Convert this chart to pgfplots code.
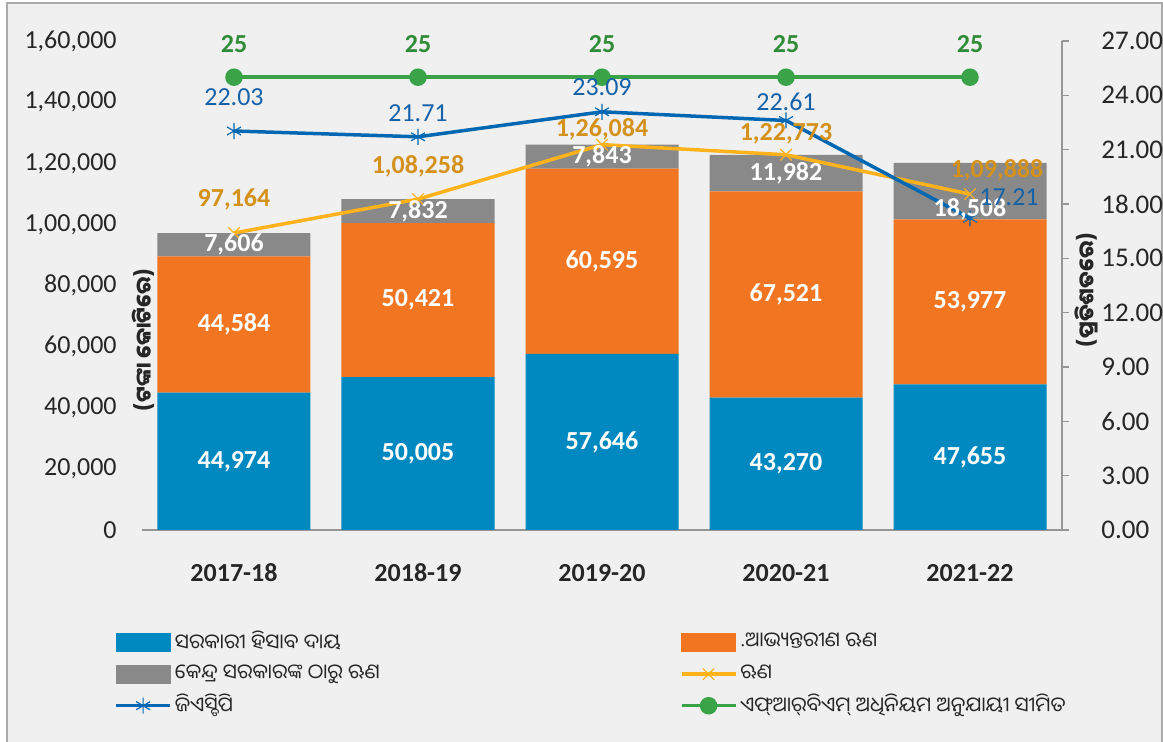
\documentclass[border=0pt]{standalone}
\usepackage{pgfplots}
\pgfplotsset{compat=1.18}
\usepackage{fontspec}
\setmainfont{Carlito}
\newfontfamily\odia[Script=Oriya]{Noto Sans Oriya UI}
\definecolor{cBlue}{RGB}{0,137,192}
\definecolor{cOrange}{RGB}{242,117,34}
\definecolor{cGray}{RGB}{137,137,137}
\definecolor{cYellow}{RGB}{255,178,26}
\definecolor{cGold}{RGB}{212,145,28}
\definecolor{cLine}{RGB}{0,104,178}
\definecolor{cLineTxt}{RGB}{22,98,168}
\definecolor{cGreen}{RGB}{58,163,72}
\definecolor{cGreenTxt}{RGB}{48,140,56}
\definecolor{cBg}{RGB}{240,240,240}
\definecolor{cFrame}{RGB}{170,170,170}
\definecolor{cAxis}{RGB}{150,150,150}
\definecolor{cTxt}{RGB}{38,38,38}
\newcommand\mainsize{\fontsize{13pt}{15pt}\selectfont}
\pgfplotsset{
  common/.style={scale only axis, width=460pt, height=244.5pt,
    xmin=-0.5, xmax=4.5, at={(0pt,0pt)}, anchor=south west},
  myline/.style={legend image code/.code={\draw[mark repeat=2,mark phase=2,##1] plot coordinates {(0pt,0pt) (13.5pt,0pt) (27pt,0pt)};}},
}
\begin{document}
\begin{tikzpicture}[font=\mainsize]
\path[use as bounding box] (-71pt,-106pt) rectangle (510.5pt,265pt);
\fill[white] (-71pt,-106pt) rectangle (510.5pt,265pt);
\filldraw[fill=cBg, draw=cFrame, line width=1pt] (-67.5pt,-115pt) rectangle (509.8pt,263.25pt);

% Axis 1: stacked bars
\begin{axis}[common,
  ybar stacked, bar width=76.5pt,
  ymin=0, ymax=160000,
  scaled y ticks=false,
  axis lines*=left,
  y axis line style={draw=none},
  x axis line style={cAxis, line width=0.8pt},
  major tick length=0pt,
  ytick={0,20000,40000,60000,80000,100000,120000,140000,160000},
  yticklabels={0,{20,000},{40,000},{60,000},{80,000},{1,00,000},{1,20,000},{1,40,000},{1,60,000}},
  yticklabel style={anchor=east, inner sep=0pt, xshift=-12.5pt, text=cTxt, font=\mainsize},
  xtick={0,1,2,3,4},
  xticklabels={2017-18,2018-19,2019-20,2020-21,2021-22},
  xticklabel style={anchor=center, inner sep=0pt, yshift=-21.5pt, font=\mainsize\bfseries, text=cTxt},
  clip=false,
]
\addplot[fill=cBlue, draw=none] coordinates {(0,44974) (1,50005) (2,57646) (3,43270) (4,47655)};
\addplot[fill=cOrange, draw=none] coordinates {(0,44584) (1,50421) (2,60595) (3,67521) (4,53977)};
\addplot[fill=cGray, draw=none] coordinates {(0,7606) (1,7832) (2,7843) (3,11982) (4,18508)};
\end{axis}

% Axis 2: total debt line (left scale)
\begin{axis}[common, hide axis, ymin=0, ymax=160000, clip=false]
\addplot[cYellow, line width=1.75pt, mark=x, mark size=4pt, mark options={line width=0.6pt}]
  coordinates {(0,97164) (1,108258) (2,126084) (3,122773) (4,109888)};
\end{axis}

% Axis 3: right scale lines + legend
\begin{axis}[common, ymin=0, ymax=27,
  axis y line*=right, axis x line=none,
  y axis line style={cAxis, line width=0.8pt},
  ytick={0,3,6,9,12,15,18,21,24,27},
  yticklabel={\pgfmathprintnumber[fixed,fixed zerofill,precision=2,assume math mode=true]{\tick}},
  tick align=outside, major tick length=3.5pt,
  tick style={cAxis, line width=0.8pt},
  yticklabel style={anchor=west, inner sep=0pt, xshift=16pt, text=cTxt, font=\fontsize{13.5pt}{15pt}\selectfont},
  clip=false,
  legend columns=2,
  legend cell align=left,
  legend style={draw=none, fill=none, at={(axis description cs:0,0)}, anchor=north west,
    xshift=-17pt, yshift=-47pt, row sep=2.5pt,
    font=\odia\fontsize{10.25pt}{12pt}\selectfont, text=cTxt,
    nodes={inner sep=1.5pt},
    /tikz/column 2/.style={column sep=148.5pt}},
]
\addlegendimage{legend image code/.code={\fill[cBlue] (0pt,-4.5pt) rectangle (27pt,4.5pt);}}
\addlegendentry{ସରକାରୀ ହିସାବ ଦାୟ}
\addlegendimage{legend image code/.code={\fill[cOrange] (0pt,-4.5pt) rectangle (27pt,4.5pt);}}
\addlegendentry{.ଆଭ୍ୟନ୍ତରୀଣ ଋଣ}
\addlegendimage{legend image code/.code={\fill[cGray] (0pt,-4.5pt) rectangle (27pt,4.5pt);}}
\addlegendentry{କେନ୍ଦ୍ର ସରକାରଙ୍କ ଠାରୁ ଋଣ}
\addlegendimage{myline, cYellow, line width=1.75pt, mark=x, mark size=4pt, mark options={line width=0.6pt}}
\addlegendentry{ଋଣ}
\addplot[myline, cLine, line width=1.75pt, mark=asterisk, mark size=4pt, mark options={line width=0.6pt}]
  coordinates {(0,22.03) (1,21.71) (2,23.09) (3,22.61) (4,17.21)};
\addlegendentry{ଜିଏସ୍ଡିପି}
\addplot[myline, cGreen, line width=1.75pt, mark=*, mark size=3.5pt]
  coordinates {(0,25) (1,25) (2,25) (3,25) (4,25)};
\addlegendentry{ଏଫ୍‌ଆର୍‌ବିଏମ୍ ଅଧିନିୟମ ଅନୁଯାୟୀ ସୀମିତ}
\end{axis}

% Axis 4: data labels (left scale)
\begin{axis}[common, hide axis, ymin=0, ymax=160000, clip=false,
  nodes near coords, point meta=explicit symbolic,
  nodes near coords align={anchor=center},
  every node near coord/.append style={inner sep=0pt},
]
\addplot[draw=none, mark=none, nodes near coords style={text=white, font=\mainsize\bfseries}]
  coordinates {(0,22487)[44,974] (1,25002)[50,005] (2,28823)[57,646] (3,21635)[43,270] (4,23828)[47,655]};
\addplot[draw=none, mark=none, nodes near coords style={text=white, font=\mainsize\bfseries}]
  coordinates {(0,67266)[44,584] (1,75216)[50,421] (2,87944)[60,595] (3,77031)[67,521] (4,74644)[53,977]};
\addplot[draw=none, mark=none, nodes near coords style={text=white, font=\mainsize\bfseries}]
  coordinates {(0,93361)[7,606] (1,104342)[7,832] (2,122163)[7,843] (3,116782)[11,982] (4,105000)[18,508]};
\addplot[draw=none, mark=none, nodes near coords style={text=cGold, font=\mainsize\bfseries}]
  coordinates {(0,108303)[97,164] (1,119101)[1,08,258] (2,131207)[1,26,084] (3,129571)[1,22,773] (4.147,117792)[1,09,888]};
\addplot[draw=none, mark=none, nodes near coords style={text=cLineTxt, font=\mainsize}]
  coordinates {(0,141678)[22.03] (1,136442)[21.71] (2,144950)[23.09] (3,140042)[22.61] (4.212,108958)[17.21]};
\addplot[draw=none, mark=none, nodes near coords style={text=cGreenTxt, font=\mainsize\bfseries}]
  coordinates {(0,159019)[25] (1,159019)[25] (2,159019)[25] (3,159019)[25] (4,159019)[25]};
\end{axis}

\node[rotate=90, font=\odia\bfseries\fontsize{10.5pt}{12pt}\selectfont, text=cTxt] at (0.5pt,95pt) {(ଟଙ୍କା କୋଟିରେ)};
\node[rotate=90, font=\odia\bfseries\fontsize{10.5pt}{12pt}\selectfont, text=cTxt] at (472pt,120pt) {(ପ୍ରତିଶତରେ)};
\end{tikzpicture}
\end{document}
